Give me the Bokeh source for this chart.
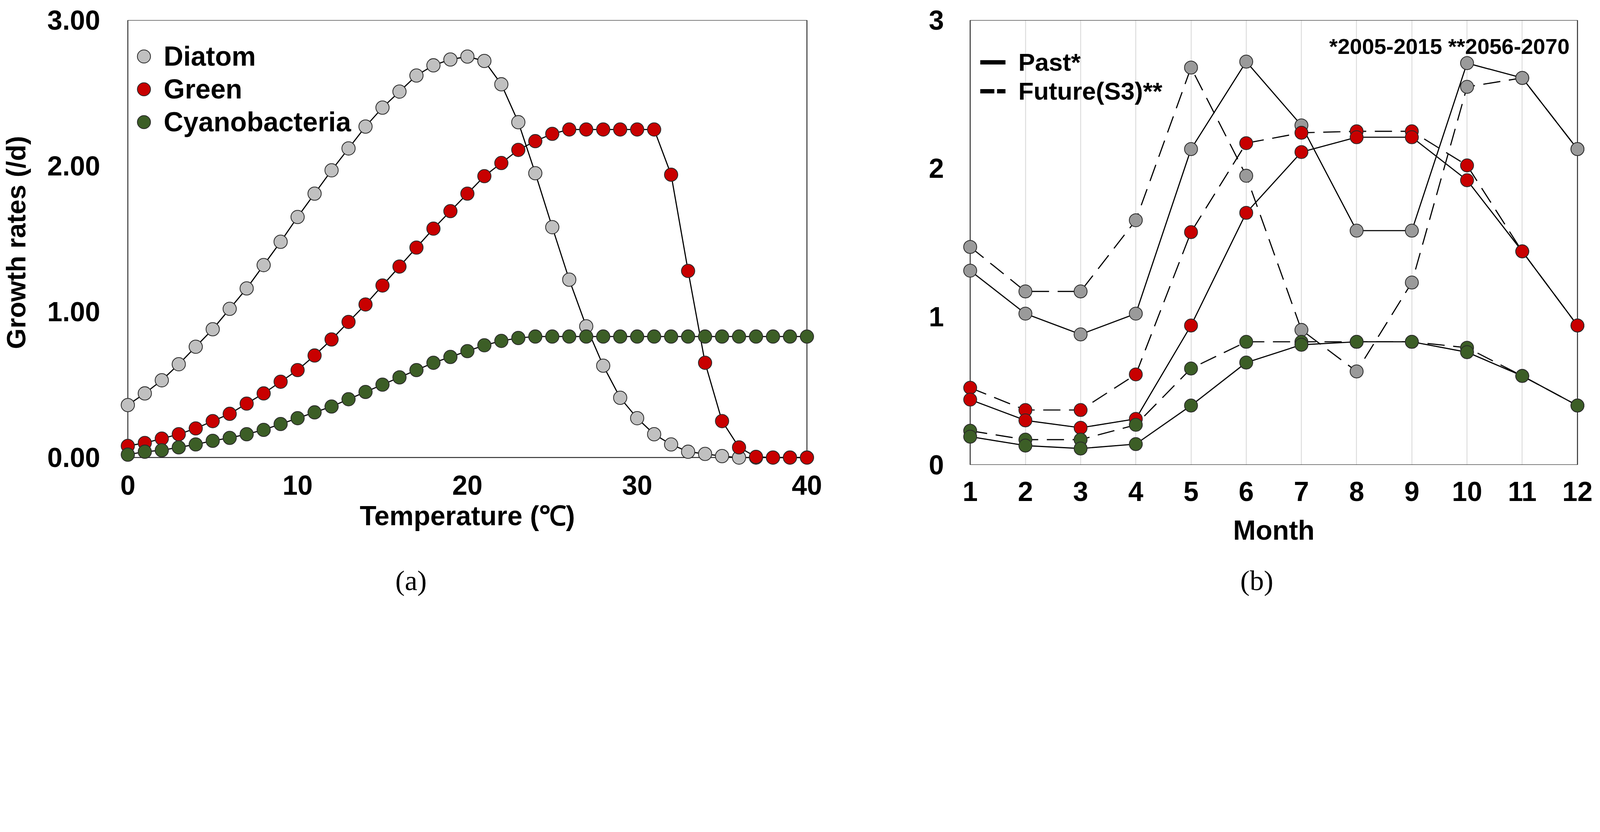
from bokeh.plotting import figure
from bokeh.models import (Legend, LegendItem, Label, FixedTicker, NumeralTickFormatter,
                          Range1d, BoxAnnotation)
from bokeh.layouts import row, column
from bokeh.embed import file_html
from bokeh.resources import INLINE

# ---------------- data (a) ----------------
temperature = list(range(0, 41))
diatom = [0.36, 0.44, 0.53, 0.64, 0.76, 0.88, 1.02, 1.16, 1.32, 1.48,
          1.65, 1.81, 1.97, 2.12, 2.27, 2.40, 2.51, 2.62, 2.69, 2.73,
          2.75, 2.72, 2.56, 2.30, 1.95, 1.58, 1.22, 0.90, 0.63, 0.41,
          0.27, 0.16, 0.09, 0.04, 0.025, 0.01, 0.0, 0.0, 0.0, 0.0, 0.0]
green = [0.08, 0.10, 0.13, 0.16, 0.20, 0.25, 0.30, 0.37, 0.44, 0.52,
         0.60, 0.70, 0.81, 0.93, 1.05, 1.18, 1.31, 1.44, 1.57, 1.69,
         1.81, 1.93, 2.02, 2.11, 2.17, 2.22, 2.25, 2.25, 2.25, 2.25,
         2.25, 2.25, 1.94, 1.28, 0.65, 0.25, 0.07, 0.005, 0.0, 0.0, 0.0]
cyano = [0.02, 0.04, 0.05, 0.07, 0.09, 0.115, 0.135, 0.16, 0.19, 0.23,
         0.27, 0.31, 0.35, 0.40, 0.45, 0.50, 0.55, 0.60, 0.65, 0.69,
         0.73, 0.77, 0.80, 0.82, 0.83, 0.83, 0.83, 0.83, 0.83, 0.83,
         0.83, 0.83, 0.83, 0.83, 0.83, 0.83, 0.83, 0.83, 0.83, 0.83, 0.83]
temp_ticks = [0, 10, 20, 30, 40]
rate_ticks = [0, 1, 2, 3]

# ---------------- data (b) ----------------
months = list(range(1, 13))
diatom_past = [1.31, 1.02, 0.88, 1.02, 2.13, 2.72, 2.29, 1.58, 1.58, 2.71, 2.61, 2.13]
diatom_future = [1.47, 1.17, 1.17, 1.65, 2.68, 1.95, 0.91, 0.63, 1.23, 2.55, 2.61, 2.13]
green_past = [0.44, 0.30, 0.25, 0.31, 0.94, 1.70, 2.11, 2.21, 2.21, 1.92, 1.44, 0.94]
green_future = [0.52, 0.37, 0.37, 0.61, 1.57, 2.17, 2.24, 2.25, 2.25, 2.02, 1.44, 0.94]
cyano_past = [0.19, 0.13, 0.11, 0.14, 0.40, 0.69, 0.81, 0.83, 0.83, 0.76, 0.60, 0.40]
cyano_future = [0.23, 0.17, 0.17, 0.27, 0.65, 0.83, 0.83, 0.83, 0.83, 0.79, 0.60, 0.40]

FONT = "Liberation Sans"
SERIF = "Liberation Serif"
GRAY_A = "#C0C0C0"
GRAY_B = "#9A9A9A"
RED = "#C80000"
DKGREEN = "#3C5E26"
EDGE = "#2A2A2A"
NAN = float("nan")

# CSS px per reference px in the photographed window
S = 4096.0 / 5647.0
M = 8                 # page margin (CSS)


def c(v):
    """reference px -> CSS px"""
    return v * S


def fs(v_ref):
    return "%.1fpx" % (v_ref * S)


def base_style(p, tick_ref, lab_standoff_x, lab_standoff_y):
    p.xgrid.visible = False
    p.ygrid.visible = False
    p.outline_line_color = None
    for ax in (p.xaxis[0], p.yaxis[0]):
        ax.axis_line_color = None
        ax.major_tick_line_color = None
        ax.minor_tick_line_color = None
        ax.major_tick_out = 0
        ax.major_tick_in = 0
        ax.major_label_text_font = FONT
        ax.major_label_text_font_style = "bold"
        ax.major_label_text_font_size = fs(tick_ref)
        ax.major_label_text_color = "black"
        ax.axis_label_text_font = FONT
        ax.axis_label_text_font_style = "bold"
        ax.axis_label_text_color = "black"
    p.xaxis[0].major_label_standoff = int(round(lab_standoff_x))
    p.yaxis[0].major_label_standoff = int(round(lab_standoff_y))
    p.background_fill_color = "white"
    p.border_fill_color = "white"


TICK = 96.0          # tick font (ref px)
EM_H = 1.117         # font box height / font size
CAP_OFF = 0.19       # top of box -> cap top, / font size

MAIN_BOTTOM = c(1975)
MAIN_H = int(round(MAIN_BOTTOM - M))
SPLIT = int(round(c(2935)))           # x where panel (b) figure starts
RIGHT_END = int(round(c(5636)))

# ================= panel (a) geometry =================
ux1 = c(2858 - 461) / 40.0
uy1 = c(1646 - 81) / 3.0
fl1 = c(461) - 0.5 * ux1
fr1 = c(2858) + 0.5 * ux1
ft1 = c(81)
fb1 = c(1646) + 0.05 * uy1
mbl1 = int(round(fl1 - M))
fw1 = int(round(fr1 - fl1))
W1 = SPLIT - M
mbr1 = W1 - mbl1 - fw1
mbt1 = int(round(ft1 - M))
fh1 = int(round(fb1 - ft1))
mbb1 = MAIN_H - mbt1 - fh1

p1 = figure(width=W1, height=MAIN_H, x_range=Range1d(-0.5, 40.5), y_range=Range1d(-0.05, 3.0),
            output_backend="svg", toolbar_location=None,
            min_border_left=mbl1, min_border_right=mbr1, min_border_top=mbt1, min_border_bottom=mbb1)
xstd1 = c(1728 - CAP_OFF * TICK) - fb1
ystd1 = fl1 - c(364)
base_style(p1, TICK, xstd1, ystd1)
p1.xaxis[0].ticker = FixedTicker(ticks=temp_ticks)
p1.yaxis[0].ticker = FixedTicker(ticks=rate_ticks)
p1.yaxis[0].formatter = NumeralTickFormatter(format="0.00")
p1.xaxis[0].axis_label = "Temperature (℃)"
p1.xaxis[0].axis_label_text_font_size = fs(96)
p1.xaxis[0].axis_label_standoff = int(round(c(1852 - CAP_OFF * 96 - (1728 - CAP_OFF * TICK) - EM_H * TICK)))
p1.yaxis[0].axis_label = "Growth rates (/d)"
p1.yaxis[0].axis_label_text_font_size = fs(94)
p1.yaxis[0].axis_label_standoff = int(round(c(364 - 1.946 * TICK - (71 + 0.5 * EM_H * 94))))

p1.add_layout(BoxAnnotation(left=0, right=40, bottom=0, top=3, fill_alpha=0,
                            line_color="#303030", line_alpha=1.0, line_width=c(3.4), level="underlay"))

items1 = []
for name, vals, col in (("Diatom", diatom, GRAY_A), ("Green", green, RED), ("Cyanobacteria", cyano, DKGREEN)):
    p1.line(temperature, vals, line_color="black", line_width=c(4))
    r = p1.scatter(temperature, vals, size=c(47), fill_color=col, line_color=EDGE, line_width=c(2.8))
    items1.append(LegendItem(label=name, renderers=[r]))

leg1 = Legend(items=items1, location=(int(round(c(460) - fl1)), int(round(fb1 - c(173 + 3 * 116)))),
              glyph_width=int(round(c(116))), glyph_height=int(round(c(116))),
              label_standoff=int(round(c(12))), spacing=0, padding=0, margin=0,
              label_text_font=FONT, label_text_font_style="bold", label_text_font_size=fs(96),
              label_text_color="black", border_line_alpha=0, background_fill_alpha=0)
p1.add_layout(leg1, "center")

# ================= panel (b) geometry =================
ux2 = c(5578 - 3435) / 11.0
fl2 = c(3435) - 0.15 * ux2
fr2 = c(5578) + 0.15 * ux2
ft2 = c(61)
fb2 = c(1650)
mbl2 = int(round(fl2 - SPLIT))
fw2 = int(round(fr2 - fl2))
W2 = RIGHT_END - SPLIT
mbr2 = W2 - mbl2 - fw2
mbt2 = int(round(ft2 - M))
fh2 = int(round(fb2 - ft2))
mbb2 = MAIN_H - mbt2 - fh2

p2 = figure(width=W2, height=MAIN_H, x_range=Range1d(0.85, 12.15), y_range=Range1d(0, 3),
            output_backend="svg", toolbar_location=None,
            min_border_left=mbl2, min_border_right=mbr2, min_border_top=mbt2, min_border_bottom=mbb2)
xstd2 = c(1727 - CAP_OFF * TICK) - fb2
ystd2 = fl2 - c(3342)
base_style(p2, TICK, xstd2, ystd2)
p2.xaxis[0].ticker = FixedTicker(ticks=months)
p2.yaxis[0].ticker = FixedTicker(ticks=rate_ticks)
p2.xaxis[0].axis_label = "Month"
p2.xaxis[0].axis_label_text_font_size = fs(96)
p2.xaxis[0].axis_label_standoff = int(round(c(1880 - CAP_OFF * 96 - (1727 - CAP_OFF * TICK) - EM_H * TICK)))
p2.xgrid.visible = True
p2.xgrid[0].ticker = FixedTicker(ticks=months)
p2.xgrid[0].grid_line_color = "#D9D9D9"
p2.xgrid[0].grid_line_width = c(3)

p2.add_layout(BoxAnnotation(left=1, right=12, bottom=0, top=3, fill_alpha=0,
                            line_color="#303030", line_alpha=1.0, line_width=c(3.4), level="underlay"))

DASH = "%d %d" % (round(c(60)), round(c(30)))
for past, future, col in ((diatom_past, diatom_future, GRAY_B),
                          (green_past, green_future, RED),
                          (cyano_past, cyano_future, DKGREEN)):
    p2.line(months, future, line_color="black", line_width=c(4), line_dash=DASH)
    p2.scatter(months, future, size=c(46), fill_color=col, line_color=EDGE, line_width=c(2.8))
    p2.line(months, past, line_color="black", line_width=c(4))
    p2.scatter(months, past, size=c(46), fill_color=col, line_color=EDGE, line_width=c(2.8))

lp = p2.line(x=[NAN], y=[NAN], line_color="black", line_width=c(15))
lf = p2.line(x=[NAN], y=[NAN], line_color="black", line_width=c(15),
             line_dash="%d %d" % (round(c(49)), round(c(9))))
leg2 = Legend(items=[LegendItem(label="Past*", renderers=[lp]),
                     LegendItem(label="Future(S3)**", renderers=[lf])],
              location=(int(round(c(3471) - fl2)), int(round(fb2 - c(189.5 + 2 * 97)))),
              glyph_width=int(round(c(89))), glyph_height=int(round(c(97))),
              label_standoff=int(round(c(46))), spacing=0, padding=0, margin=0,
              label_text_font=FONT, label_text_font_style="bold", label_text_font_size=fs(88),
              label_text_color="black", border_line_alpha=0, background_fill_alpha=0)
p2.add_layout(leg2, "center")

p2.add_layout(Label(x=11.857, y=2.8225, text="*2005-2015 **2056-2070", text_font=FONT,
                    text_font_style="bold", text_font_size=fs(77), text_align="right",
                    text_baseline="alphabetic", text_color="black"))

# ================= captions =================
CAP_TOP = M + MAIN_H
CAP_BOTTOM = c(2118)
CAP_W = RIGHT_END - M
CAP_H = int(round(CAP_BOTTOM - CAP_TOP))
cap = figure(width=CAP_W, height=CAP_H, x_range=Range1d(0, CAP_W), y_range=Range1d(0, CAP_H),
             output_backend="svg", toolbar_location=None,
             min_border_left=0, min_border_right=0, min_border_top=0, min_border_bottom=0)
cap.axis.visible = False
cap.grid.visible = False
cap.outline_line_color = None
cap_y = CAP_TOP + CAP_H - c(2058)
cap.add_layout(Label(x=c(1461) - M, y=cap_y, text="(a)", text_font=SERIF, text_font_size=fs(100),
                     text_align="center", text_baseline="middle", text_color="black"))
cap.add_layout(Label(x=c(4446) - M, y=cap_y, text="(b)", text_font=SERIF, text_font_size=fs(100),
                     text_align="center", text_baseline="middle", text_color="black"))

layout = column(row(p1, p2), cap)
open("out.html", "w").write(file_html(layout, INLINE))
